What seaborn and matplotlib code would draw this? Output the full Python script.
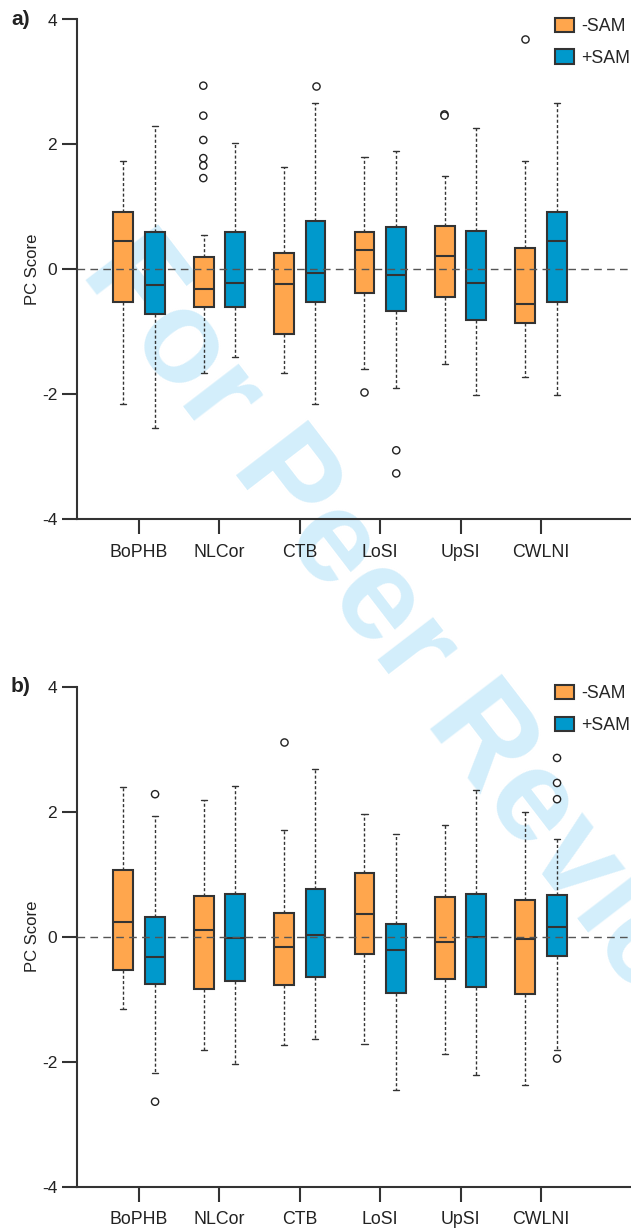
import numpy as np
import pandas as pd
import matplotlib
matplotlib.use("Agg")
import matplotlib.pyplot as plt
from matplotlib.patches import Patch
import seaborn as sns

# ---------------- data ----------------
categories = ["BoPHB", "NLCor", "CTB", "LoSI", "UpSI", "CWLNI"]
treatments = ["-SAM", "+SAM"]
colors = ["#FFA64D", "#0099CC"]

# panel a) five-number summaries per category
a_minus_low = [-2.16, -1.66, -1.66, -1.59, -1.525, -1.72]
a_minus_q1 = [-0.53, -0.60, -1.035, -0.385, -0.44, -0.86]
a_minus_med = [0.46, -0.32, -0.23, 0.31, 0.22, -0.56]
a_minus_q3 = [0.92, 0.19, 0.26, 0.59, 0.69, 0.336]
a_minus_high = [1.74, 0.555, 1.63, 1.80, 1.49, 1.74]

a_plus_low = [-2.54, -1.40, -2.16, -1.90, -2.02, -2.02]
a_plus_q1 = [-0.72, -0.60, -0.53, -0.67, -0.82, -0.53]
a_plus_med = [-0.245, -0.215, -0.06, -0.09, -0.215, 0.46]
a_plus_q3 = [0.60, 0.60, 0.77, 0.67, 0.61, 0.92]
a_plus_high = [2.29, 2.02, 2.66, 1.90, 2.26, 2.66]

a_flier_cat = ["NLCor", "NLCor", "NLCor", "NLCor", "NLCor", "NLCor",
               "LoSI", "UpSI", "UpSI", "CWLNI",
               "CTB", "LoSI", "LoSI"]
a_flier_trt = ["-SAM"] * 10 + ["+SAM"] * 3
a_flier_val = [2.94, 2.46, 2.07, 1.78, 1.66, 1.46,
               -1.97, 2.48, 2.46, 3.68,
               2.94, -2.90, -3.27]

# panel b)
b_minus_low = [-1.16, -1.81, -1.74, -1.71, -1.88, -2.38]
b_minus_q1 = [-0.53, -0.837, -0.78, -0.27, -0.68, -0.91]
b_minus_med = [0.24, 0.107, -0.17, 0.37, -0.085, -0.04]
b_minus_q3 = [1.067, 0.65, 0.38, 1.02, 0.64, 0.58]
b_minus_high = [2.395, 2.18, 1.70, 1.96, 1.79, 2.0]

b_plus_low = [-2.18, -2.03, -1.63, -2.45, -2.21, -1.81]
b_plus_q1 = [-0.75, -0.71, -0.64, -0.90, -0.81, -0.31]
b_plus_med = [-0.325, -0.02, 0.02, -0.22, 0.0, 0.15]
b_plus_q3 = [0.31, 0.69, 0.77, 0.20, 0.69, 0.67]
b_plus_high = [1.926, 2.41, 2.68, 1.645, 2.34, 1.56]

b_flier_cat = ["CTB", "BoPHB", "BoPHB", "CWLNI", "CWLNI", "CWLNI", "CWLNI"]
b_flier_trt = ["-SAM", "+SAM", "+SAM", "+SAM", "+SAM", "+SAM", "+SAM"]
b_flier_val = [3.12, 2.28, -2.64, 2.86, 2.46, 2.20, -1.95]

yticks = [-4, -2, 0, 2, 4]
ytick_labels = ["-4", "-2", "0", "2", "4"]


def summary_frame(minus, plus):
    rows = []
    for trt, stats in zip(treatments, (minus, plus)):
        for i, cat in enumerate(categories):
            for arr in stats:
                rows.append({"region": cat, "treatment": trt, "score": arr[i]})
    return pd.DataFrame(rows)


panels = [
    dict(letter="a)",
         box=summary_frame((a_minus_low, a_minus_q1, a_minus_med, a_minus_q3, a_minus_high),
                           (a_plus_low, a_plus_q1, a_plus_med, a_plus_q3, a_plus_high)),
         fl=pd.DataFrame({"region": a_flier_cat, "treatment": a_flier_trt, "score": a_flier_val}),
         rect=[77 / 631, 1 - 519 / 1232, 554 / 631, 499.5 / 1232]),
    dict(letter="b)",
         box=summary_frame((b_minus_low, b_minus_q1, b_minus_med, b_minus_q3, b_minus_high),
                           (b_plus_low, b_plus_q1, b_plus_med, b_plus_q3, b_plus_high)),
         fl=pd.DataFrame({"region": b_flier_cat, "treatment": b_flier_trt, "score": b_flier_val}),
         rect=[77 / 631, 1 - 1186.7 / 1232, 554 / 631, 500 / 1232]),
]

# ---------------- style ----------------
sns.set_theme(style="ticks")
plt.rcParams["font.family"] = ["Liberation Sans", "DejaVu Sans"]
plt.rcParams["axes.unicode_minus"] = False

edge = "#333333"
txt = "#222222"
fig = plt.figure(figsize=(6.31, 12.32), dpi=100)
fig.patch.set_facecolor("white")

# watermark (behind everything)
fig.text(80 / 631, 1 - 272 / 1232, "For Peer Review", rotation=-52.5,
         rotation_mode="anchor", ha="left", va="baseline",
         fontsize=94, fontweight="bold", family=["Liberation Sans", "DejaVu Sans"],
         color="#D3EEFB", zorder=-10)

palette = dict(zip(treatments, colors))

for p in panels:
    ax = fig.add_axes(p["rect"])
    ax.set_facecolor("none")
    sns.boxplot(data=p["box"], x="region", y="score", hue="treatment",
                order=categories, hue_order=treatments, palette=palette,
                width=0.78, gap=0.37, whis=(0, 100), showfliers=False,
                linecolor=edge, linewidth=1.5, saturation=1,
                whiskerprops=dict(linestyle=(0, (2.2, 1.6)), linewidth=1.0, color=edge),
                capprops=dict(linewidth=1.0, color=edge),
                medianprops=dict(linewidth=1.5, color=edge),
                capwidths=0.075, legend=False, ax=ax, zorder=2)
    sns.stripplot(data=p["fl"], x="region", y="score", hue="treatment",
                  order=categories, hue_order=treatments,
                  palette={t: "white" for t in treatments},
                  dodge=True, jitter=False, size=5.2, linewidth=1.0,
                  edgecolor="#222222", legend=False, ax=ax, zorder=4)
    ax.axhline(0, color="#555555", linewidth=1.0, linestyle=(0, (5.5, 3.8)), zorder=3)

    ax.set_xlim(-0.771, 6.12)
    ax.set_ylim(-4, 4)
    ax.set_yticks(yticks)
    ax.set_yticklabels(ytick_labels)
    ax.set_xticks(range(len(categories)))
    ax.set_xticklabels(categories)
    ax.set_xlabel("")
    ax.set_ylabel("PC Score", fontsize=12, color=txt)
    ax.yaxis.set_label_coords(-0.066, 0.5)
    sns.despine(ax=ax)
    for s in ("left", "bottom"):
        ax.spines[s].set_color(edge)
        ax.spines[s].set_linewidth(1.5)
    ax.tick_params(axis="y", length=10.8, width=1.5, color=edge, pad=3.5,
                   labelsize=12.5, labelcolor=txt)
    ax.tick_params(axis="x", length=10.8, width=1.5, color=edge, pad=7,
                   labelsize=12.8, labelcolor=txt)

    handles = [Patch(facecolor=c, edgecolor=edge, linewidth=1.5) for c in colors]
    ax.legend(handles, treatments, loc="upper left",
              bbox_to_anchor=(555 / 631, p["rect"][1] + p["rect"][3] + 1.5 / 1232),
              bbox_transform=fig.transFigure, frameon=False, fontsize=12.8,
              handlelength=1.05, handleheight=0.85, handletextpad=0.4,
              labelspacing=0.8, borderpad=0, borderaxespad=0)
    top_px = (1 - (p["rect"][1] + p["rect"][3])) * 1232
    fig.text(11 / 631, 1 - (top_px - 9.5) / 1232, p["letter"], ha="left", va="top",
             fontsize=15, fontweight="bold", color=txt)

fig.savefig("out.png", dpi=100, facecolor="white")
